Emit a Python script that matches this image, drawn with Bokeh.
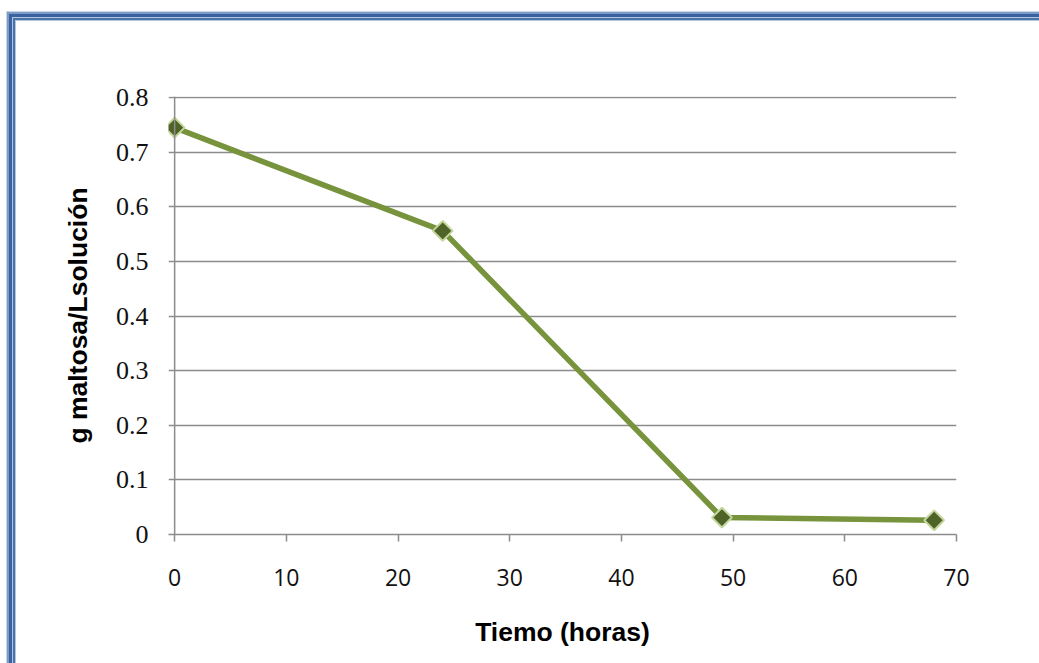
import math
from bokeh.plotting import figure
from bokeh.models import Range1d, FixedTicker, Span
from bokeh.layouts import column
from bokeh.embed import file_html
from bokeh.resources import INLINE

# Data
tiempo = [0, 24, 49, 68]
maltosa = [0.745, 0.556, 0.031, 0.026]
x_ticks = [0, 10, 20, 30, 40, 50, 60, 70]
y_ticks = [0, 0.1, 0.2, 0.3, 0.4, 0.5, 0.6, 0.7, 0.8]
y_tick_labels = ["0", "0.1", "0.2", "0.3", "0.4", "0.5", "0.6", "0.7", "0.8"]

p = figure(width=1023, height=642, output_backend="svg", toolbar_location=None,
           x_range=Range1d(-0.55, 70), y_range=Range1d(0, 0.802),
           min_border_left=152, min_border_top=75, min_border_right=83, min_border_bottom=129)
p.outline_line_color = None
p.background_fill_color = "white"
p.border_fill_color = "white"

line_gray = "#8c8c8c"
p.xgrid.grid_line_color = None
p.ygrid.grid_line_color = line_gray
p.ygrid.grid_line_width = 1.5
p.ygrid.ticker = FixedTicker(ticks=y_ticks)

p.xaxis.ticker = FixedTicker(ticks=x_ticks)
p.yaxis.ticker = FixedTicker(ticks=y_ticks)
p.yaxis.major_label_overrides = {t: l for t, l in zip(y_ticks, y_tick_labels)}

for ax in (p.xaxis[0], p.yaxis[0]):
    ax.axis_line_color = line_gray
    ax.axis_line_width = 1.5
    ax.major_tick_line_color = line_gray
    ax.major_tick_line_width = 1.5
    ax.major_tick_in = 0
    ax.major_tick_out = 7
    ax.minor_tick_line_color = None
    ax.major_label_text_color = "#111111"
    ax.axis_label_text_font = "Liberation Sans"
    ax.axis_label_text_font_style = "bold"
    ax.axis_label_text_font_size = "26.5px"
    ax.axis_label_text_color = "#000000"

p.yaxis.axis_line_color = None
p.yaxis.major_tick_out = 0
p.yaxis.major_label_text_font = "Liberation Serif"
p.yaxis.major_label_text_font_size = "26px"
p.yaxis.major_label_standoff = 20
p.yaxis.axis_label = "g maltosa/Lsolución"
p.yaxis.axis_label_standoff = 20

p.xaxis.major_label_text_font = "Open Sans"
p.xaxis.major_label_text_font_size = "23px"
p.xaxis.major_label_standoff = 27
p.xaxis.axis_label = "Tiemo (horas)"
p.xaxis.axis_label_standoff = 28

# vertical axis line at x = 0
p.add_layout(Span(location=0, dimension="height", line_color=line_gray, line_width=1.5))

p.line(tiempo, maltosa, line_color="#77933c", line_width=5.5)
p.scatter(tiempo, maltosa, marker="square", size=14, angle=math.pi / 4,
          fill_color="#4f6228", line_color="#c3d69b", line_width=2)

frame_shadow = ("0 0 0 1px #b3c6e0, 0 0 0 3px #4d72a8, 0 0 0 4px #b3c6e0, "
                "0 0 0 7px #3b62a0, 0 0 0 9px #7e9bc6, 0 0 0 10px #cad7ea")
layout = column(p, styles={"margin-left": "16px", "margin-top": "21px",
                           "box-shadow": frame_shadow})

open("out.html", "w").write(file_html(layout, INLINE))
